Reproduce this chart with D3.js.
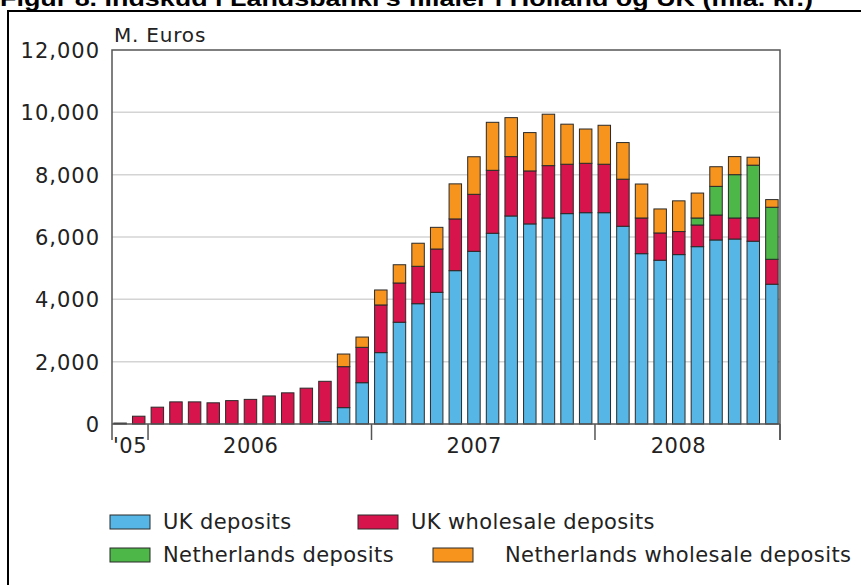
<!DOCTYPE html>
<html lang="da">
<head>
<meta charset="UTF-8">
<title>Indskud i Landsbanki's filialer</title>
<script src="https://d3js.org/d3.v7.min.js"></script>
<style>
  body { margin: 0; padding: 0; background: #fff; }
  svg { display: block; }
  .tick text { font-family: "DejaVu Sans", sans-serif; }
</style>
</head>
<body>
<div id="chart"></div>
<script>
// months Nov 2005 .. Oct 2008
const months = d3.range(36).map(i => {
  const d = new Date(2005, 10 + i, 1);
  return d3.timeFormat("%Y-%m")(d);
});
const yearLabels = ["'05", "2006", "2007", "2008"];
const yearStarts = ["2005-11", "2006-01", "2007-01", "2008-01"];

const ukDeposits = [0,0,0,0,0,0,0,0,0,0,0,75,
  525,1325,2290,3265,3860,4225,4920,5540,6120,6675,6420,6610,
  6750,6780,6780,6345,5465,5255,5435,5690,5905,5935,5865,4485];
const ukWholesale = [30,250,540,710,710,680,750,790,900,1000,1150,1295,
  1315,1135,1530,1260,1200,1390,1660,1830,2020,1905,1700,1680,
  1585,1585,1555,1510,1145,875,740,695,800,675,750,800];
const nlDeposits = [0,0,0,0,0,0,0,0,0,0,0,0,
  0,0,0,0,0,0,0,0,0,0,0,0,
  0,0,0,0,0,0,0,225,920,1390,1690,1670];
const nlWholesale = [0,0,0,0,0,0,0,0,0,0,0,0,
  405,330,480,585,740,695,1125,1205,1540,1250,1230,1650,
  1285,1100,1250,1175,1090,770,985,800,630,580,255,245];

const seriesNames = ["UK deposits", "UK wholesale deposits", "Netherlands deposits", "Netherlands wholesale deposits"];
const seriesColors = ["#56b7e6", "#d7144c", "#4db848", "#f7941e"];
const yTicks = [0, 2000, 4000, 6000, 8000, 10000, 12000];

const table = months.map((m, i) => ({
  month: m,
  [seriesNames[0]]: ukDeposits[i],
  [seriesNames[1]]: ukWholesale[i],
  [seriesNames[2]]: nlDeposits[i],
  [seriesNames[3]]: nlWholesale[i]
}));

const W = 861, H = 585;
const svg = d3.select("#chart").append("svg").attr("width", W).attr("height", H);

// title (cut off at top like the source)
svg.append("text")
  .attr("x", 0).attr("y", 6)
  .attr("font-family", "Liberation Sans, Arial, sans-serif")
  .attr("font-weight", "bold")
  .attr("font-size", 22)
  .attr("textLength", 813).attr("lengthAdjust", "spacingAndGlyphs")
  .text("Figur 8. Indskud i Landsbanki's filialer i Holland og UK (mia. kr.)");

// outer frame
svg.append("line").attr("x1", 8).attr("x2", W).attr("y1", 11).attr("y2", 11)
  .attr("stroke", "#000").attr("stroke-width", 2);
svg.append("line").attr("x1", 8).attr("x2", 8).attr("y1", 10).attr("y2", H)
  .attr("stroke", "#000").attr("stroke-width", 2);

const plotL = 112, plotR = 780, plotT = 50, plotB = 424;

const x = d3.scaleBand().domain(months).range([plotL, plotR]).paddingInner(0.33).paddingOuter(0.1);
const y = d3.scaleLinear().domain([0, 12000]).range([plotB, plotT]);

// gridlines
svg.append("g").selectAll("line").data(yTicks.filter(t => t > 0 && t < 12000)).join("line")
  .attr("x1", plotL).attr("x2", plotR)
  .attr("y1", d => y(d)).attr("y2", d => y(d))
  .attr("stroke", "#d4d4d4").attr("stroke-width", 1.5);

// bars
const stacked = d3.stack().keys(seriesNames)(table);
svg.append("g").selectAll("g").data(stacked).join("g")
  .attr("fill", (d, i) => seriesColors[i])
  .selectAll("rect").data(d => d.filter(p => p[1] - p[0] > 0)).join("rect")
  .attr("x", d => x(d.data.month))
  .attr("width", x.bandwidth())
  .attr("y", d => y(d[1]))
  .attr("height", d => y(d[0]) - y(d[1]))
  .attr("stroke", "#2a2a2a").attr("stroke-width", 1);

// frame of plot
svg.append("path")
  .attr("d", `M${plotL},${plotB + 16}V${plotT}H${plotR}V${plotB + 16}`)
  .attr("fill", "none").attr("stroke", "#555").attr("stroke-width", 1.5);
svg.append("line").attr("x1", plotL).attr("x2", plotR).attr("y1", plotB).attr("y2", plotB)
  .attr("stroke", "#555").attr("stroke-width", 1.5);

// y axis labels
const yAxis = svg.append("g").attr("transform", `translate(${plotL},0)`)
  .call(d3.axisLeft(y).tickValues(yTicks).tickFormat(d3.format(",")).tickSize(0).tickPadding(12));
yAxis.select(".domain").remove();
yAxis.selectAll("text").attr("font-size", 21).attr("letter-spacing", 1)
  .attr("fill", "#222").attr("dy", "0.36em");

// year separators and labels
const gap = (x.step() - x.bandwidth()) / 2;
const bounds = yearStarts.map(m => x(m) - gap).concat([plotR]);
svg.append("g").selectAll("line").data(bounds.slice(1)).join("line")
  .attr("x1", d => d).attr("x2", d => d)
  .attr("y1", plotB).attr("y2", plotB + 16)
  .attr("stroke", "#555").attr("stroke-width", 1.5);
svg.append("g").selectAll("text").data(yearLabels).join("text")
  .attr("x", (d, i) => (Math.max(bounds[i], plotL) + bounds[i + 1]) / 2 - (i === 0 ? 0 : 9))
  .attr("y", 453)
  .attr("text-anchor", "middle")
  .attr("font-family", "DejaVu Sans, sans-serif")
  .attr("font-size", 21).attr("letter-spacing", 0.5).attr("fill", "#222")
  .text(d => d);

// unit label
svg.append("text").attr("x", 114).attr("y", 42)
  .attr("font-family", "DejaVu Sans, sans-serif").attr("font-size", 20)
  .attr("letter-spacing", 0.8).attr("fill", "#222")
  .text("M. Euros");

// legend
const legendPos = [
  { x: 110, y: 522 }, { x: 358, y: 522 },
  { x: 110, y: 555 }, { x: 433, y: 555 }
];
const legend = svg.append("g").selectAll("g").data(seriesNames).join("g")
  .attr("transform", (d, i) => `translate(${legendPos[i].x},${legendPos[i].y})`);
legend.append("rect")
  .attr("x", 0).attr("y", -7).attr("width", 40).attr("height", 14)
  .attr("fill", (d, i) => seriesColors[i]).attr("stroke", "#2a2a2a").attr("stroke-width", 1);
legend.append("text")
  .attr("x", (d, i) => i === 3 ? 72 : 53).attr("y", 0).attr("dy", "0.32em")
  .attr("font-family", "DejaVu Sans, sans-serif").attr("font-size", 21)
  .attr("letter-spacing", 0.4).attr("fill", "#222")
  .text(d => d);
</script>
</body>
</html>
